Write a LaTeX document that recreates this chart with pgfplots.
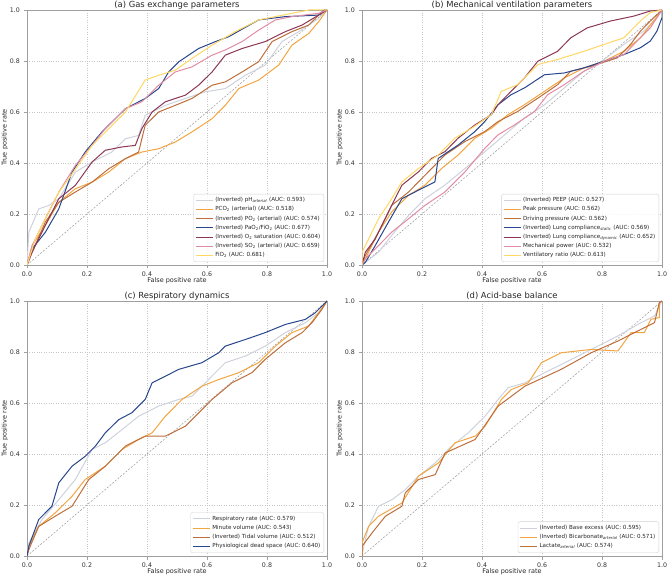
\documentclass[border=0pt]{standalone}
\usepackage{fontspec}
\setmainfont{DejaVu Sans}
\usepackage{pgfplots}
\pgfplotsset{compat=1.18}

\definecolor{cGray}{RGB}{205,210,220}
\definecolor{cOrange}{RGB}{242,165,65}
\definecolor{cBrown}{RGB}{190,110,60}
\definecolor{cNavy}{RGB}{40,70,140}
\definecolor{cMaroon}{RGB}{140,55,85}
\definecolor{cPink}{RGB}{225,140,165}
\definecolor{cYellow}{RGB}{255,215,100}

\newcommand{\sub}[1]{\textsubscript{#1}}
\newcommand{\subi}[1]{\textsubscript{\itshape #1}}

\pgfplotsset{
  rocaxis/.style={
    scale only axis, width=300pt, height=255pt,
    xmin=0, xmax=1, ymin=0, ymax=1,
    xtick={0,0.2,0.4,0.6,0.8,1}, ytick={0,0.2,0.4,0.6,0.8,1},
    xticklabels={0.0,0.2,0.4,0.6,0.8,1.0},
    yticklabels={0.0,0.2,0.4,0.6,0.8,1.0},
    tick label style={font=\fontsize{6.3}{7}\selectfont, text=black!80},
    grid=major,
    major grid style={dotted, gray!45, line width=0.45pt},
    axis line style={gray!75, line width=0.7pt},
    tick style={gray!75, line width=0.6pt},
    major tick length=3.5pt,
    tick align=outside, tick pos=left,
    xlabel={False positive rate}, ylabel={True positive rate},
    every axis x label/.style={at={(axis description cs:0.5,-0.037)}, anchor=north,
      font=\fontsize{6.5}{7.5}\selectfont, text=black!85},
    every axis y label/.style={at={(axis description cs:-0.052,0.5)}, rotate=90, anchor=south,
      font=\fontsize{6.5}{7.5}\selectfont, text=black!85},
    every axis title shift=0pt,
    title style={font=\fontsize{8.4}{10}\selectfont, at={(axis description cs:0.5,1)},
      anchor=base, yshift=2.4pt, text=black!85},
    legend cell align=left,
    legend style={at={(0.99,0.012)}, anchor=south east,
      font=\fontsize{5.6}{6.4}\selectfont, text=black!85,
      draw=gray!35, rounded corners=2pt, fill=white, fill opacity=0.85, text opacity=1,
      inner sep=1.5pt, row sep=-0.6pt},
    legend image post style={line width=1pt},
    every axis plot/.append style={line width=1pt, line join=round},
  },
  diag/.style={forget plot, gray!80, line width=0.5pt, dash pattern=on 2pt off 1.5pt},
}

\begin{document}
\begin{tikzpicture}
\useasboundingbox (-27pt,-21pt) rectangle (641pt,556pt);

% (a) Gas exchange parameters
\begin{axis}[rocaxis, at={(0pt,291pt)}, anchor=south west,
  title={(a) Gas exchange parameters}]
\addplot[diag] coordinates {(0,0) (1,1)};
\addplot[cGray] coordinates {(0,0) (0.006,0.128) (0.039,0.22) (0.072,0.233) (0.106,0.26) (0.161,0.364) (0.217,0.404) (0.283,0.443) (0.328,0.495) (0.372,0.508) (0.394,0.587) (0.461,0.626) (0.528,0.653) (0.594,0.679) (0.661,0.692) (0.728,0.744) (0.794,0.784) (0.85,0.876) (0.906,0.915) (0.972,0.967) (1,1)};
\addlegendentry{(Inverted) pH\subi{arterial} (AUC: 0.593)}
\addplot[cOrange] coordinates {(0,0) (0.017,0.076) (0.061,0.155) (0.106,0.246) (0.161,0.299) (0.217,0.325) (0.272,0.364) (0.328,0.417) (0.383,0.443) (0.439,0.456) (0.494,0.482) (0.55,0.522) (0.617,0.574) (0.661,0.626) (0.706,0.692) (0.772,0.725) (0.839,0.784) (0.883,0.862) (0.939,0.908) (0.972,0.954) (1,1)};
\addlegendentry{PCO\sub{2} (arterial) (AUC: 0.518)}
\addplot[cBrown] coordinates {(0,0) (0.017,0.05) (0.061,0.168) (0.106,0.246) (0.161,0.286) (0.217,0.325) (0.272,0.377) (0.328,0.417) (0.372,0.443) (0.394,0.548) (0.439,0.6) (0.494,0.626) (0.55,0.653) (0.617,0.705) (0.661,0.718) (0.717,0.757) (0.772,0.797) (0.817,0.876) (0.883,0.915) (0.939,0.941) (0.972,0.98) (1,1)};
\addlegendentry{(Inverted) PO\sub{2} (arterial) (AUC: 0.574)}
\addplot[cNavy] coordinates {(0,0) (0.017,0.063) (0.061,0.128) (0.106,0.22) (0.15,0.364) (0.194,0.443) (0.25,0.522) (0.328,0.613) (0.394,0.653) (0.439,0.692) (0.472,0.757) (0.506,0.797) (0.572,0.849) (0.628,0.876) (0.672,0.895) (0.772,0.961) (0.861,0.974) (0.972,0.98) (0.99,1) (1,1)};
\addlegendentry{(Inverted) PaO\sub{2}/FiO\sub{2} (AUC: 0.677)}
\addplot[cMaroon] coordinates {(0,0) (0.017,0.05) (0.061,0.155) (0.106,0.26) (0.161,0.312) (0.217,0.404) (0.261,0.45) (0.317,0.463) (0.361,0.469) (0.383,0.535) (0.417,0.6) (0.461,0.64) (0.528,0.666) (0.572,0.705) (0.617,0.757) (0.661,0.823) (0.717,0.849) (0.794,0.876) (0.861,0.915) (0.917,0.941) (0.972,0.98) (1,1)};
\addlegendentry{(Inverted) O\sub{2} saturation (AUC: 0.604)}
\addplot[cPink] coordinates {(0,0) (0.017,0.076) (0.061,0.181) (0.106,0.286) (0.161,0.39) (0.217,0.469) (0.261,0.535) (0.328,0.613) (0.383,0.64) (0.439,0.705) (0.494,0.757) (0.55,0.777) (0.617,0.823) (0.661,0.843) (0.717,0.876) (0.772,0.921) (0.828,0.961) (0.883,0.974) (0.972,0.987) (1,1)};
\addlegendentry{(Inverted) SO\sub{2} (arterial) (AUC: 0.659)}
\addplot[cYellow] coordinates {(0,0) (0.028,0.102) (0.061,0.181) (0.106,0.286) (0.139,0.338) (0.217,0.469) (0.328,0.6) (0.394,0.725) (0.439,0.744) (0.494,0.764) (0.55,0.81) (0.617,0.862) (0.694,0.915) (0.772,0.961) (0.883,0.987) (0.94,1) (1,1)};
\addlegendentry{FiO\sub{2} (AUC: 0.681)}
\end{axis}

% (b) Mechanical ventilation parameters
\begin{axis}[rocaxis, at={(335pt,291pt)}, anchor=south west,
  title={(b) Mechanical ventilation parameters}]
\addplot[diag] coordinates {(0,0) (1,1)};
\addplot[cGray] coordinates {(0,0) (0.011,0.01) (0.055,0.05) (0.099,0.116) (0.155,0.194) (0.21,0.26) (0.276,0.313) (0.343,0.378) (0.409,0.444) (0.475,0.51) (0.541,0.576) (0.608,0.628) (0.674,0.694) (0.74,0.76) (0.807,0.806) (0.873,0.865) (0.939,0.917) (0.983,0.97) (1,1)};
\addlegendentry{(Inverted) PEEP (AUC: 0.527)}
\addplot[cOrange] coordinates {(0,0) (0.011,0.024) (0.055,0.129) (0.099,0.208) (0.155,0.273) (0.21,0.313) (0.265,0.378) (0.32,0.431) (0.376,0.497) (0.431,0.536) (0.486,0.589) (0.541,0.628) (0.608,0.681) (0.674,0.733) (0.74,0.773) (0.807,0.799) (0.873,0.838) (0.928,0.891) (0.972,0.957) (1,1)};
\addlegendentry{Peak pressure (AUC: 0.562)}
\addplot[cBrown] coordinates {(0,0) (0.011,0.037) (0.055,0.129) (0.099,0.234) (0.155,0.286) (0.21,0.352) (0.276,0.431) (0.343,0.484) (0.409,0.523) (0.453,0.562) (0.519,0.602) (0.586,0.654) (0.652,0.707) (0.696,0.76) (0.762,0.779) (0.851,0.812) (0.895,0.865) (0.928,0.917) (0.961,0.957) (1,1)};
\addlegendentry{Driving pressure (AUC: 0.562)}
\addplot[cNavy] coordinates {(0,0) (0.011,0.01) (0.044,0.076) (0.088,0.168) (0.133,0.26) (0.199,0.3) (0.243,0.326) (0.254,0.418) (0.32,0.47) (0.376,0.523) (0.409,0.562) (0.453,0.628) (0.497,0.668) (0.541,0.694) (0.608,0.746) (0.674,0.753) (0.74,0.773) (0.807,0.799) (0.873,0.825) (0.928,0.852) (0.961,0.878) (0.983,0.917) (1,0.97) (1,1)};
\addlegendentry{(Inverted) Lung compliance\subi{static} (AUC: 0.569)}
\addplot[cMaroon] coordinates {(0,0) (0.011,0.05) (0.044,0.102) (0.077,0.181) (0.11,0.26) (0.133,0.313) (0.188,0.365) (0.232,0.418) (0.276,0.444) (0.32,0.497) (0.376,0.549) (0.431,0.589) (0.453,0.628) (0.486,0.668) (0.541,0.733) (0.586,0.799) (0.652,0.838) (0.696,0.891) (0.751,0.93) (0.829,0.957) (0.906,0.976) (0.961,0.996) (1,1)};
\addlegendentry{(Inverted) Lung compliance\subi{dynamic} (AUC: 0.652)}
\addplot[cPink] coordinates {(0,0) (0.011,0.024) (0.055,0.076) (0.099,0.129) (0.155,0.181) (0.21,0.234) (0.276,0.286) (0.343,0.365) (0.409,0.457) (0.453,0.51) (0.508,0.549) (0.575,0.602) (0.619,0.668) (0.674,0.707) (0.74,0.76) (0.807,0.799) (0.873,0.825) (0.917,0.878) (0.961,0.93) (1,1)};
\addlegendentry{Mechanical power (AUC: 0.532)}
\addplot[cYellow] coordinates {(0,0) (0,0.05) (0.022,0.102) (0.055,0.181) (0.099,0.26) (0.133,0.326) (0.188,0.378) (0.254,0.431) (0.309,0.497) (0.365,0.536) (0.431,0.589) (0.464,0.681) (0.519,0.707) (0.586,0.786) (0.652,0.806) (0.74,0.838) (0.807,0.865) (0.873,0.891) (0.928,0.957) (0.961,0.99) (1,1)};
\addlegendentry{Ventilatory ratio (AUC: 0.613)}
\end{axis}

% (c) Respiratory dynamics
\begin{axis}[rocaxis, at={(0pt,0pt)}, anchor=south west,
  title={(c) Respiratory dynamics}]
\addplot[diag] coordinates {(0,0) (1,1)};
\addplot[cGray] coordinates {(0,0) (0.006,0.051) (0.05,0.143) (0.106,0.221) (0.161,0.3) (0.217,0.418) (0.261,0.444) (0.317,0.496) (0.372,0.548) (0.439,0.588) (0.506,0.614) (0.55,0.627) (0.594,0.679) (0.661,0.758) (0.728,0.784) (0.794,0.823) (0.861,0.876) (0.928,0.915) (0.972,0.954) (1,1)};
\addlegendentry{Respiratory rate (AUC: 0.579)}
\addplot[cOrange] coordinates {(0,0) (0.006,0.038) (0.039,0.116) (0.094,0.169) (0.15,0.234) (0.194,0.3) (0.261,0.352) (0.317,0.418) (0.372,0.457) (0.417,0.483) (0.461,0.548) (0.517,0.614) (0.583,0.666) (0.639,0.692) (0.706,0.719) (0.772,0.758) (0.828,0.823) (0.883,0.876) (0.939,0.902) (0.972,0.954) (1,1)};
\addlegendentry{Minute volume (AUC: 0.543)}
\addplot[cBrown] coordinates {(0,0) (0.006,0.025) (0.039,0.116) (0.094,0.156) (0.15,0.195) (0.206,0.3) (0.261,0.352) (0.328,0.431) (0.394,0.47) (0.461,0.47) (0.528,0.509) (0.617,0.614) (0.683,0.679) (0.75,0.719) (0.794,0.771) (0.861,0.836) (0.917,0.876) (0.95,0.915) (0.983,0.967) (1,1)};
\addlegendentry{(Inverted) Tidal volume (AUC: 0.512)}
\addplot[cNavy] coordinates {(0,0) (0.006,0.038) (0.039,0.143) (0.083,0.195) (0.106,0.287) (0.15,0.352) (0.194,0.391) (0.228,0.431) (0.261,0.483) (0.306,0.535) (0.35,0.562) (0.394,0.614) (0.417,0.679) (0.461,0.705) (0.506,0.732) (0.583,0.758) (0.639,0.797) (0.661,0.823) (0.728,0.849) (0.794,0.876) (0.861,0.908) (0.928,0.928) (0.961,0.954) (0.983,0.98) (1,1)};
\addlegendentry{Physiological dead space (AUC: 0.640)}
\end{axis}

% (d) Acid-base balance
\begin{axis}[rocaxis, at={(335pt,0pt)}, anchor=south west,
  title={(d) Acid-base balance}]
\addplot[diag] coordinates {(0,0) (1,1)};
\addplot[cGray] coordinates {(0,0) (0.006,0.038) (0.022,0.116) (0.055,0.195) (0.1,0.221) (0.144,0.26) (0.188,0.313) (0.244,0.365) (0.299,0.431) (0.354,0.483) (0.41,0.548) (0.454,0.614) (0.487,0.66) (0.543,0.679) (0.609,0.719) (0.676,0.758) (0.764,0.81) (0.853,0.863) (0.93,0.915) (0.975,0.941) (0.991,0.98) (1,1)};
\addlegendentry{(Inverted) Base excess (AUC: 0.595)}
\addplot[cOrange] coordinates {(0,0) (0,0.051) (0.022,0.116) (0.055,0.156) (0.133,0.208) (0.188,0.313) (0.255,0.365) (0.31,0.444) (0.377,0.47) (0.41,0.509) (0.465,0.614) (0.498,0.653) (0.554,0.679) (0.598,0.758) (0.664,0.797) (0.764,0.81) (0.853,0.804) (0.897,0.876) (0.941,0.876) (0.963,0.928) (0.991,0.935) (0.991,0.993) (1,1)};
\addlegendentry{(Inverted) Bicarbonate\subi{arterial} (AUC: 0.571)}
\addplot[cBrown] coordinates {(0,0) (0,0.038) (0.033,0.09) (0.078,0.156) (0.133,0.195) (0.144,0.247) (0.188,0.3) (0.244,0.319) (0.277,0.404) (0.377,0.457) (0.454,0.588) (0.543,0.666) (0.664,0.732) (0.764,0.797) (0.853,0.843) (0.93,0.889) (0.975,0.915) (0.991,0.993) (1,1)};
\addlegendentry{Lactate\subi{arterial} (AUC: 0.574)}
\end{axis}
\end{tikzpicture}
\end{document}
